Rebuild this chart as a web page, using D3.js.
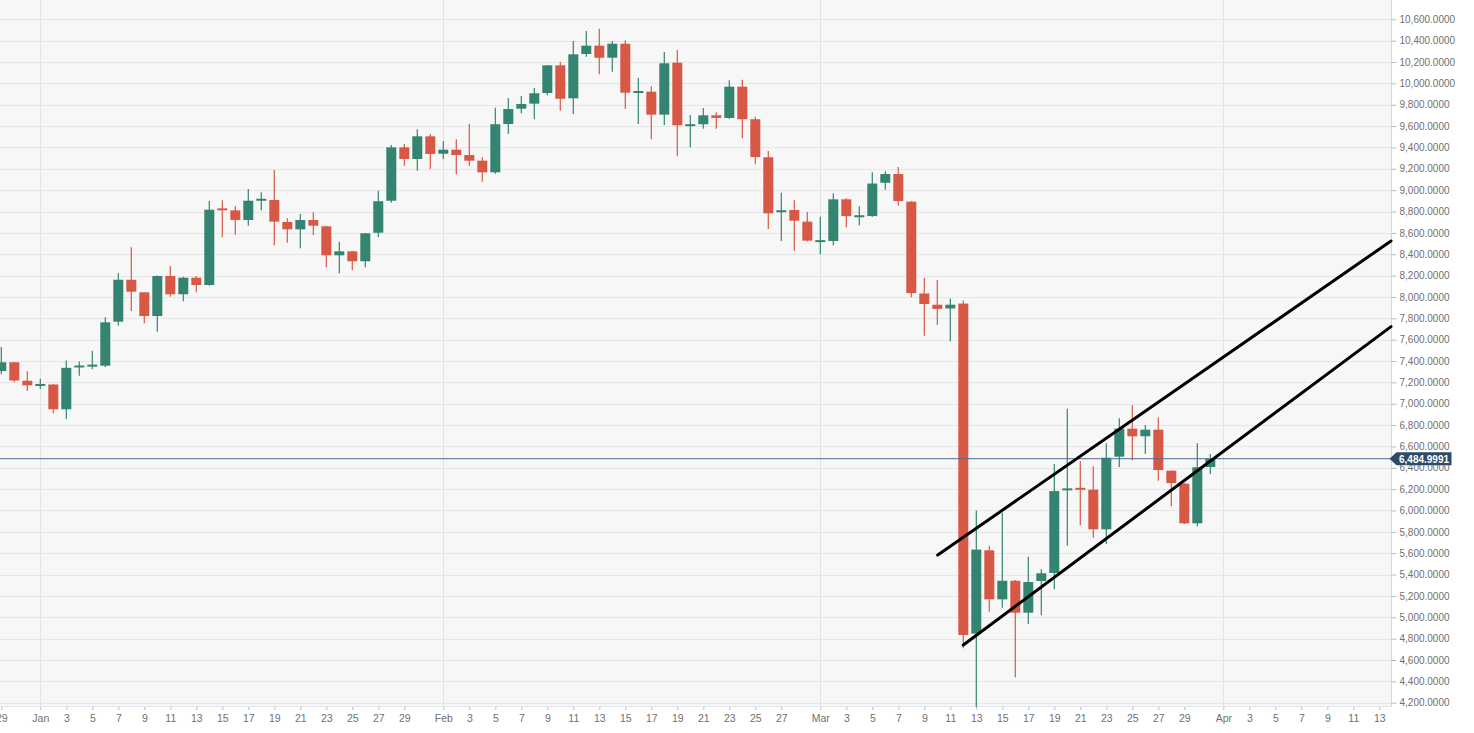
<!DOCTYPE html>
<html>
<head>
<meta charset="utf-8">
<script src="https://cdn.jsdelivr.net/npm/d3@7"></script>
<style>
  html, body { margin: 0; padding: 0; background: #ffffff; }
  svg { display: block; }
  text { font-family: "Liberation Sans", Arial, sans-serif; }
</style>
</head>
<body>
<svg id="chart" width="1474" height="733"></svg>
<script>
// ---------------- DATA ----------------
const dates = [
  "2019-12-29","2019-12-30","2019-12-31",
  "2020-01-01","2020-01-02","2020-01-03","2020-01-04","2020-01-05","2020-01-06","2020-01-07","2020-01-08","2020-01-09","2020-01-10",
  "2020-01-11","2020-01-12","2020-01-13","2020-01-14","2020-01-15","2020-01-16","2020-01-17","2020-01-18","2020-01-19","2020-01-20",
  "2020-01-21","2020-01-22","2020-01-23","2020-01-24","2020-01-25","2020-01-26","2020-01-27","2020-01-28","2020-01-29","2020-01-30","2020-01-31",
  "2020-02-01","2020-02-02","2020-02-03","2020-02-04","2020-02-05","2020-02-06","2020-02-07","2020-02-08","2020-02-09","2020-02-10",
  "2020-02-11","2020-02-12","2020-02-13","2020-02-14","2020-02-15","2020-02-16","2020-02-17","2020-02-18","2020-02-19","2020-02-20",
  "2020-02-21","2020-02-22","2020-02-23","2020-02-24","2020-02-25","2020-02-26","2020-02-27","2020-02-28","2020-02-29",
  "2020-03-01","2020-03-02","2020-03-03","2020-03-04","2020-03-05","2020-03-06","2020-03-07","2020-03-08","2020-03-09","2020-03-10",
  "2020-03-11","2020-03-12","2020-03-13","2020-03-14","2020-03-15","2020-03-16","2020-03-17","2020-03-18","2020-03-19","2020-03-20",
  "2020-03-21","2020-03-22","2020-03-23","2020-03-24","2020-03-25","2020-03-26","2020-03-27","2020-03-28","2020-03-29","2020-03-30","2020-03-31"
];
const open = [
  7306,7388,7215,
  7171,7180,6948,7346,7353,7356,7768,8161,8043,7821,
  8196,8025,8180,8112,8823,8811,8720,8908,8908,8702,
  8633,8720,8661,8390,8427,8334,8601,8901,9401,9292,9504,
  9341,9379,9329,9276,9167,9619,9763,9810,9910,10169,
  9860,10275,10353,10240,10371,9916,9922,9707,10194,9607,
  9617,9701,9676,9969,9664,9308,8800,8814,8705,
  8518,8524,8914,8753,8757,9069,9151,8892,8032,7927,
  7892,7938,4847,5627,5168,5342,5043,5340,5415,6195,
  6208,6195,5824,6504,6766,6695,6757,6373,6251,5880,6407
];
const high = [
  7531,7391,7303,
  7233,7185,7405,7395,7496,7809,8221,8465,8046,8200,
  8290,8190,8196,8898,8905,8852,9011,8980,9189,8736,
  8777,8793,8667,8517,8433,8599,8995,9423,9432,9570,9526,
  9460,9476,9622,9308,9772,9863,9882,9957,10172,10203,
  10397,10490,10512,10397,10403,10050,9973,10294,10312,9704,
  9769,9729,10029,10034,9688,9367,8976,8905,8795,
  8750,8970,8924,8849,9167,9177,9216,8898,8180,8158,
  7986,7964,6000,5670,5979,5349,5567,5449,6435,6953,
  6463,6414,6629,6863,6985,6801,6873,6375,6257,6629,6529
];
const low = [
  7275,7200,7119,
  7140,6910,6857,7262,7322,7344,7731,7868,7753,7674,
  8002,7959,8043,8105,8558,8583,8667,8811,8484,8508,
  8455,8577,8277,8221,8252,8277,8558,8882,9229,9182,9198,
  9292,9148,9226,9079,9154,9526,9720,9663,9888,9744,
  9713,10250,10085,10109,9763,9619,9476,9610,9317,9401,
  9575,9575,9669,9486,9242,8636,8524,8433,8518,
  8400,8485,8652,8672,8750,9003,8855,7997,7636,7737,
  7586,4710,4080,5052,5090,4438,4937,5018,5262,5670,
  5861,5745,5686,6407,6470,6529,6279,6039,5873,5852,6342
];
const close = [
  7388,7217,7172,
  7180,6948,7336,7351,7360,7762,8161,8049,7821,8196,
  8025,8180,8112,8817,8817,8720,8901,8912,8705,8633,
  8720,8667,8390,8427,8334,8596,8896,9401,9292,9504,9339,
  9379,9329,9276,9167,9617,9760,9807,9907,10169,9856,
  10272,10353,10240,10371,9913,9922,9707,10188,9607,9610,
  9701,9676,9969,9664,9310,8783,8805,8714,8527,
  8527,8914,8757,8758,9062,9151,8898,8036,7934,7888,
  7927,4834,5634,5168,5342,5043,5330,5412,6182,6201,
  6198,5824,6494,6766,6695,6757,6379,6257,5880,6405,6484.9991
];

const lastPrice = 6484.9991;

const yTicks = [4200,4400,4600,4800,5000,5200,5400,5600,5800,6000,6200,6400,6600,6800,7000,7200,7400,
  7600,7800,8000,8200,8400,8600,8800,9000,9200,9400,9600,9800,10000,10200,10400,10600];

const xTickDates = [
  "2019-12-29","2020-01-01","2020-01-03","2020-01-05","2020-01-07","2020-01-09","2020-01-11","2020-01-13","2020-01-15",
  "2020-01-17","2020-01-19","2020-01-21","2020-01-23","2020-01-25","2020-01-27","2020-01-29",
  "2020-02-01","2020-02-03","2020-02-05","2020-02-07","2020-02-09","2020-02-11","2020-02-13","2020-02-15","2020-02-17",
  "2020-02-19","2020-02-21","2020-02-23","2020-02-25","2020-02-27",
  "2020-03-01","2020-03-03","2020-03-05","2020-03-07","2020-03-09","2020-03-11","2020-03-13","2020-03-15","2020-03-17",
  "2020-03-19","2020-03-21","2020-03-23","2020-03-25","2020-03-27","2020-03-29",
  "2020-04-01","2020-04-03","2020-04-05","2020-04-07","2020-04-09","2020-04-11","2020-04-13"
];
const xTickLabels = [
  "29","Jan","3","5","7","9","11","13","15","17","19","21","23","25","27","29",
  "Feb","3","5","7","9","11","13","15","17","19","21","23","25","27",
  "Mar","3","5","7","9","11","13","15","17","19","21","23","25","27","29",
  "Apr","3","5","7","9","11","13"
];
const monthStarts = ["2020-01-01","2020-02-01","2020-03-01","2020-04-01"];

// channel trend lines: [date-time, price]
const upperLine = [["2020-03-10T00:45", 5583], ["2020-04-13T21:40", 8524]];
const lowerLine = [["2020-03-12T00:00", 4740], ["2020-04-13T21:40", 7722]];

// ---------------- LAYOUT ----------------
const W = 1474, H = 733;
const plotRight = 1391, plotBottom = 707;
const parseDay = d3.timeParse("%Y-%m-%d");
const parseDT = d3.timeParse("%Y-%m-%dT%H:%M");
const dayPx = 13;

const x = d3.scaleTime()
  .domain([parseDay("2020-01-01"), parseDay("2020-04-01")])
  .range([40.3, 40.3 + 91 * dayPx]);
const y = d3.scaleLinear().domain([4200, 10600]).range([702.7, 19.3]);

const GREEN = "#338470", RED = "#d85846";

const svg = d3.select("#chart");
svg.append("rect").attr("x",0).attr("y",0).attr("width",W).attr("height",H).attr("fill","#ffffff");
svg.append("rect").attr("x",0).attr("y",0).attr("width",plotRight).attr("height",plotBottom).attr("fill","#f7f7f7");

svg.append("defs").append("clipPath").attr("id","plotclip")
  .append("rect").attr("x",0).attr("y",0).attr("width",plotRight).attr("height",plotBottom);

// horizontal grid
svg.append("g").selectAll("line").data(yTicks).join("line")
  .attr("x1",0).attr("x2",plotRight)
  .attr("y1",d=>Math.round(y(d))+0.5).attr("y2",d=>Math.round(y(d))+0.5)
  .attr("stroke","#e6e6e6").attr("stroke-width",1);

// month vertical grid
svg.append("g").selectAll("line").data(monthStarts).join("line")
  .attr("x1",d=>Math.round(x(parseDay(d)))+0.5).attr("x2",d=>Math.round(x(parseDay(d)))+0.5)
  .attr("y1",0).attr("y2",plotBottom)
  .attr("stroke","#e3e3e3").attr("stroke-width",1);

// bottom band line
svg.append("line").attr("x1",0).attr("x2",plotRight).attr("y1",plotBottom-0.5).attr("y2",plotBottom-0.5)
  .attr("stroke","#e4e6ec");

// right axis
const yAxis = d3.axisRight(y).tickValues(yTicks).tickFormat(d3.format(",.4f")).tickSize(5).tickPadding(3);
const gy = svg.append("g").attr("transform",`translate(${plotRight+0.5},0)`).call(yAxis);
gy.select(".domain").attr("stroke","#d3d6e0").attr("d",`M0,0V${plotBottom}`);
gy.selectAll(".tick line").attr("stroke","#b9bcc4");
gy.selectAll(".tick text").attr("fill","#707070").style("font-size","10px");

// bottom axis
const xTicksParsed = xTickDates.map(parseDay);
const xAxis = d3.axisBottom(x).tickValues(xTicksParsed)
  .tickFormat((d,i)=>xTickLabels[i]).tickSize(3).tickPadding(5);
const gx = svg.append("g").attr("transform",`translate(0,${plotBottom})`).call(xAxis);
gx.select(".domain").remove();
gx.selectAll(".tick line").attr("stroke","#b9bcc4");
gx.selectAll(".tick text").attr("fill","#707070").style("font-size","10.5px");

// candles
const candles = dates.map((d,i)=>({date:parseDay(d),o:open[i],h:high[i],l:low[i],c:close[i]}));
const cg = svg.append("g").attr("clip-path","url(#plotclip)");
const bodyW = 10;
const cand = cg.selectAll("g.c").data(candles).join("g").attr("class","c");
cand.append("line")
  .attr("x1",d=>x(d.date)).attr("x2",d=>x(d.date))
  .attr("y1",d=>y(d.h)).attr("y2",d=>y(d.l))
  .attr("stroke",d=>d.c>=d.o?GREEN:RED).attr("stroke-width",1.2);
cand.append("rect")
  .attr("x",d=>x(d.date)-bodyW/2)
  .attr("y",d=>Math.min(y(d.o),y(d.c)) - (Math.abs(y(d.o)-y(d.c))<2 ? (2-Math.abs(y(d.o)-y(d.c)))/2 : 0))
  .attr("width",bodyW)
  .attr("height",d=>Math.max(2,Math.abs(y(d.o)-y(d.c))))
  .attr("fill",d=>d.c>=d.o?GREEN:RED);

// last price line
const ly = y(lastPrice);
svg.append("line").attr("x1",0).attr("x2",plotRight).attr("y1",ly).attr("y2",ly)
  .attr("stroke","#4f6d92").attr("stroke-width",1);

// trend lines
const line = d3.line().x(d=>x(parseDT(d[0]))).y(d=>y(d[1]));
[upperLine, lowerLine].forEach(l=>{
  svg.append("path").attr("d",line(l)).attr("fill","none")
    .attr("stroke","#000000").attr("stroke-width",3).attr("stroke-linecap","round");
});

// price label
const lx = plotRight - 1.5;
svg.append("path")
  .attr("d",`M${lx},${ly} L${lx+7},${ly-6.5} L${lx+62},${ly-6.5} L${lx+62},${ly+6.5} L${lx+7},${ly+6.5} Z`)
  .attr("fill","#2d4a6b");
svg.append("text").attr("x",lx+9.5).attr("y",ly+3.8)
  .attr("fill","#ffffff").style("font-size","10px").style("font-weight","bold")
  .text(d3.format(",.4f")(lastPrice));
</script>
</body>
</html>
